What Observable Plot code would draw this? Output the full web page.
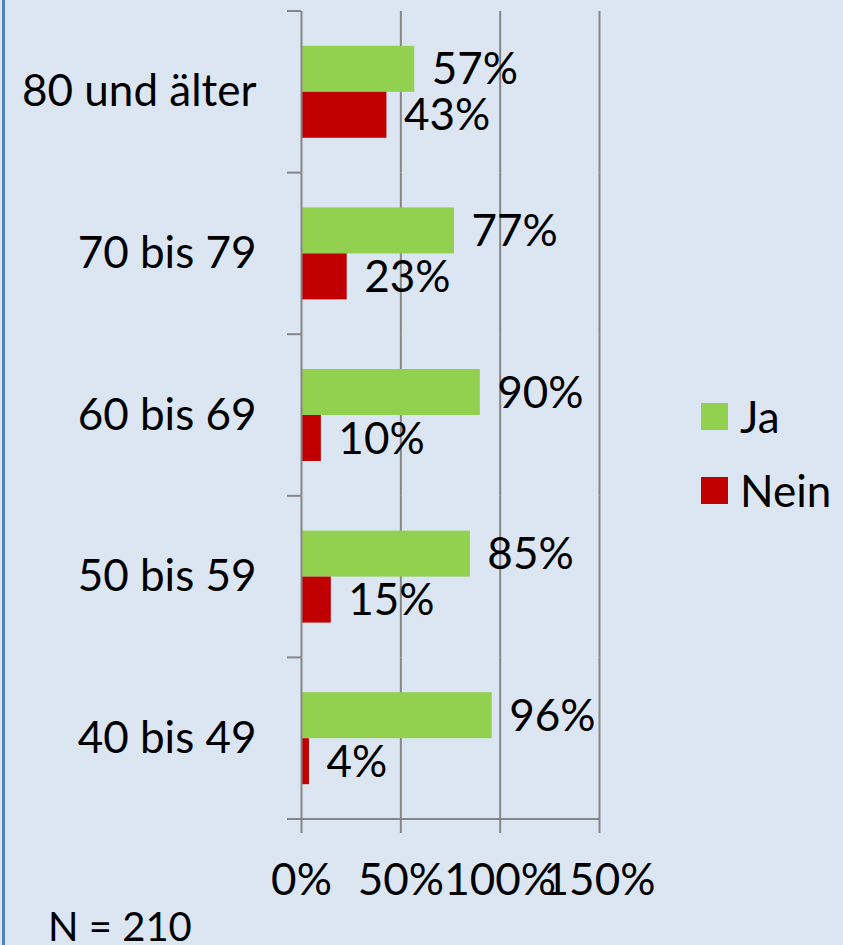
<!DOCTYPE html>
<html><head><meta charset="utf-8">
<script src="https://cdn.jsdelivr.net/npm/d3@7"></script>
<script src="https://cdn.jsdelivr.net/npm/@observablehq/plot@0.6"></script>
<style>
html,body{margin:0;padding:0;background:#dce6f2;}
#wrap{position:relative;width:843px;height:945px;background:#dce6f2;font-family:Lato,sans-serif;overflow:hidden;color:#000;}
#border{position:absolute;left:2px;top:0;width:3px;height:945px;background:#4f81bd;}
#legend{position:absolute;left:701px;top:379px;}
#legend .row{display:flex;align-items:center;height:74px;font-size:44px;}
#legend .sw{width:27px;height:27px;margin-right:12px;}
#caption{position:absolute;left:48px;top:908px;font-size:40px;line-height:36px;white-space:nowrap;}
</style>
</head><body>
<div id="wrap"><div id="border"></div><div id="legend"></div><div id="caption"></div></div>
<script>
const categories = ["80 und älter", "70 bis 79", "60 bis 69", "50 bis 59", "40 bis 49"];
const series = ["Ja", "Nein"];
const jaValues = [57, 77, 90, 85, 96];
const neinValues = [43, 23, 10, 15, 4];
const xTicks = [0, 50, 100, 150];
const seriesColors = ["#92d050", "#c00000"];
const captionText = "N = 210";

const data = categories.flatMap((c, i) => [
  {cat: c, s: series[0], v: jaValues[i]},
  {cat: c, s: series[1], v: neinValues[i]}
]);

const gray = "#868686";
const plot = Plot.plot({
  width: 843,
  height: 945,
  marginLeft: 301,
  marginRight: 244,
  marginTop: 11,
  marginBottom: 126,
  style: {background: "transparent", fontFamily: "Lato, sans-serif", fontSize: "44px", color: "#000", overflow: "visible"},
  x: {domain: [0, 150], axis: null},
  y: {domain: series, paddingInner: 0, paddingOuter: 0.757, round: false, axis: null},
  fy: {domain: categories, padding: 0, round: false, axis: null},
  color: {domain: series, range: seriesColors},
  marks: [
    Plot.gridX(xTicks.slice(1), {stroke: gray, strokeOpacity: 1, strokeWidth: 2}),
    Plot.barX(data, {x: "v", y: "s", fy: "cat", fill: "s"}),
    Plot.ruleX([0], {stroke: gray, strokeWidth: 2}),
    Plot.text(data, {x: "v", y: "s", fy: "cat", text: d => d.v + "%", textAnchor: "start", dx: 17, dy: 1, fontSize: 44, fill: "#000"}),
    Plot.axisX({ticks: xTicks, tickFormat: d => d + "%", tickSize: 14, tickPadding: 30, stroke: gray, strokeWidth: 2, strokeOpacity: 1, fontSize: 44, fill: "#000", label: null}),
    Plot.axisFy({anchor: "left", tickSize: 0, tickPadding: 45, fontSize: 44, fill: "#000", label: null})
  ]
});

// boundary ticks on the category axis and the horizontal axis line, from the plot's scales
const fy = plot.scale("fy");
const xs = plot.scale("x");
const x0 = xs.apply(0);
const xEnd = xs.apply(xs.domain[1]);
const bounds = categories.map(c => fy.apply(c)).concat([fy.apply(categories[categories.length - 1]) + fy.bandwidth]);
const svg = d3.select(plot);
const g = svg.append("g").attr("stroke", gray).attr("stroke-width", 2);
g.selectAll("line.tk").data(bounds).join("line")
  .attr("x1", x0 - 14).attr("x2", x0).attr("y1", d => d).attr("y2", d => d);
g.append("line").attr("x1", x0).attr("x2", xEnd)
  .attr("y1", bounds[bounds.length - 1]).attr("y2", bounds[bounds.length - 1]);

const wrap = document.getElementById("wrap");
plot.style.position = "absolute";
plot.style.left = "0px";
plot.style.top = "0px";
wrap.insertBefore(plot, wrap.firstChild);

const legend = d3.select("#legend");
series.forEach((s, i) => {
  const row = legend.append("div").attr("class", "row");
  row.append("div").attr("class", "sw").style("background", seriesColors[i]);
  row.append("span").text(s);
});
document.getElementById("caption").textContent = captionText;
</script>
</body></html>
